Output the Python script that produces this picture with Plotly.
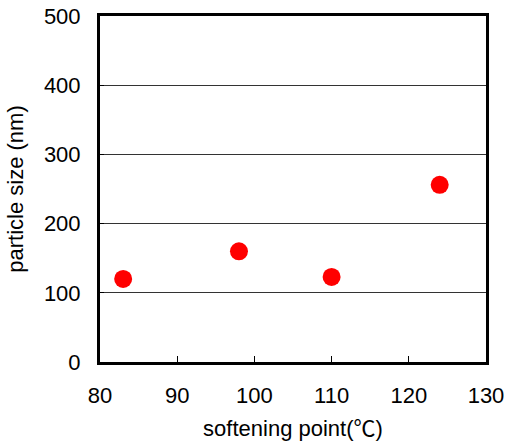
import plotly.graph_objects as go

softening_point = [83, 98, 110, 124]
particle_size = [120, 160, 123, 256]
x_ticks = [80, 90, 100, 110, 120, 130]
y_ticks = [0, 100, 200, 300, 400, 500]

fig = go.Figure()
fig.add_trace(go.Scatter(
    x=softening_point, y=particle_size, mode="markers",
    marker=dict(color="#ff0000", size=18, line=dict(width=0)),
    showlegend=False, cliponaxis=False,
))

font = dict(family="Arial, Liberation Sans, sans-serif", size=22, color="#000000")
tfont = dict(family="Arial, Liberation Sans, 'Noto Sans CJK JP', sans-serif", size=22, color="#000000")
fig.update_layout(
    width=507, height=444,
    margin=dict(l=100, r=21, t=16, b=82),
    paper_bgcolor="white", plot_bgcolor="white",
    font=font,
    xaxis=dict(
        range=[80, 130], tickvals=x_ticks, ticks="inside", ticklen=6, tickwidth=1, tickcolor="#000",
        showgrid=False, zeroline=False, showline=True, linewidth=3, linecolor="#000", mirror=True,
        title=dict(text="softening point(℃)", font=tfont, standoff=14),
        ticklabelstandoff=12, automargin=False, ticklabeloverflow="allow",
    ),
    yaxis=dict(
        range=[0, 500], tickvals=y_ticks, ticks="inside", ticklen=4, tickwidth=1, tickcolor="#000",
        showgrid=True, gridcolor="#333", gridwidth=1, zeroline=False,
        showline=True, linewidth=3, linecolor="#000", mirror=True,
        title=dict(text="particle size (nm)", font=tfont, standoff=15),
        ticklabelstandoff=12, automargin=False, ticklabeloverflow="allow",
    ),
)
fig.write_html(
    "out.html",
    config={"displayModeBar": False},
    post_script="document.body.style.margin='0';document.body.style.overflow='hidden';",
)
